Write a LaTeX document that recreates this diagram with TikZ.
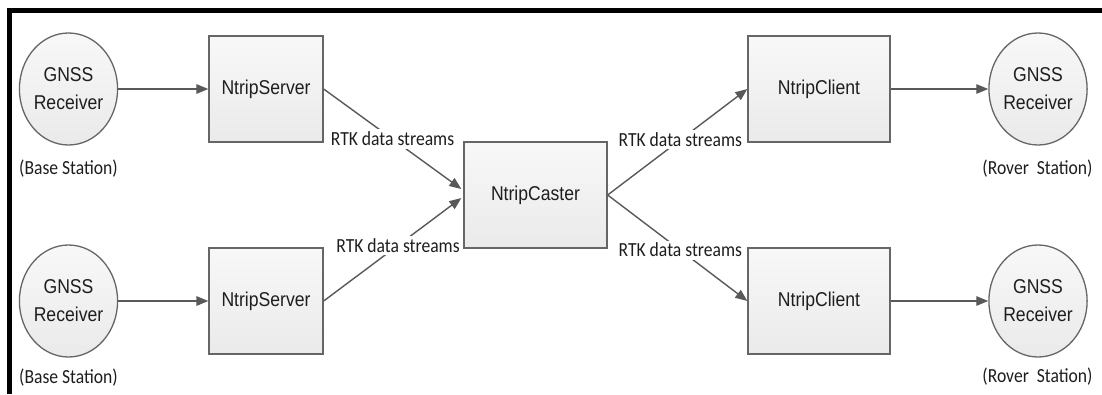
\documentclass[tikz,border=0pt]{standalone}
\usepackage{fontspec}
\usetikzlibrary{shapes.geometric,arrows.meta,calc}
\newfontfamily\headfont[FakeStretch=0.88]{Liberation Sans}
\newfontfamily\notefont[FakeStretch=0.88]{Carlito}
\definecolor{edgegray}{HTML}{595959}
\definecolor{outline}{HTML}{666666}
\definecolor{ink}{HTML}{1E1E1E}
\definecolor{filltop}{HTML}{F8F8F8}
\definecolor{fillbot}{HTML}{EAEAEA}

\begin{document}
\begin{tikzpicture}[x=1pt,y=-1pt,
  unit/.style={draw=outline, line width=1.3pt, top color=filltop, bottom color=fillbot,
    inner sep=0pt, align=center, text=ink, font=\headfont\fontsize{20}{28}\selectfont},
  srvbox/.style={unit, rectangle, minimum width=114pt, minimum height=106pt},
  clibox/.style={unit, rectangle, minimum width=142pt, minimum height=106pt},
  castbox/.style={unit, rectangle, minimum width=143pt, minimum height=106pt},
  recv/.style={unit, ellipse, minimum width=97pt, minimum height=112pt},
  caption/.style={text=ink, font=\notefont\fontsize{20}{24}\selectfont, inner sep=0pt},
  flow/.style={draw=edgegray, line width=1.4pt, -{Triangle[length=12pt,width=9.5pt]}},
  tag/.style={fill=white, text=ink, inner sep=2.5pt, font=\notefont\fontsize{20}{24}\selectfont}
]
\useasboundingbox (0,0) rectangle (1102,394);
\fill[white] (0,0) rectangle (1102,394);

% frame along the top and left edges
\draw[line width=5pt] (9,394) -- (9,10.5) -- (1102,10.5);

% base side
\node[recv] (gA) at (68.5,89) {GNSS\\Receiver};
\node[recv] (gB) at (68.5,301) {GNSS\\Receiver};
\node[caption] (capA) at (68.5,169) {(Base Station)};
\node[caption] (capB) at (68.5,378) {(Base Station)};

\node[srvbox] (sA) at (266,89) {NtripServer};
\node[srvbox] (sB) at (266,301) {NtripServer};

% caster
\node[castbox] (cast) at (535.5,195) {NtripCaster};

% rover side
\node[clibox] (kA) at (819,89) {NtripClient};
\node[clibox] (kB) at (819,301) {NtripClient};

\node[recv] (rA) at (1038,89) {GNSS\\Receiver};
\node[recv] (rB) at (1038,301) {GNSS\\Receiver};
\node[caption] (capC) at (1037.5,169) {(Rover~~Station)};
\node[caption] (capD) at (1037.5,377) {(Rover~~Station)};

% connectors
\draw[flow] (gA.east) -- (sA.west);
\draw[flow] (gB.east) -- (sB.west);

\draw[flow] (sA.east) -- node[tag, pos=0.5] {RTK data streams} ($(cast.west)+(-2,-6)$);
\draw[flow] (sB.east) -- node[tag, pos=0.54] {RTK data streams} ($(cast.west)+(-2,3)$);

\draw[flow] (cast.east) -- node[tag, pos=0.52] {RTK data streams} (kA.west);
\draw[flow] (cast.east) -- node[tag, pos=0.52] {RTK data streams} (kB.west);

\draw[flow] (kA.east) -- (rA.west);
\draw[flow] (kB.east) -- (rB.west);
\end{tikzpicture}
\end{document}
